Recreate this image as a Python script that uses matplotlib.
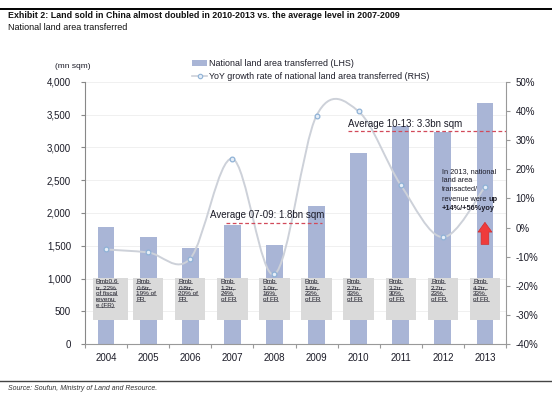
import matplotlib
matplotlib.use("Agg")
import matplotlib.pyplot as plt
from matplotlib.patches import Rectangle, FancyArrowPatch, PathPatch
from matplotlib.path import Path
from matplotlib.lines import Line2D
import numpy as np

years = ["2004", "2005", "2006", "2007", "2008", "2009", "2010", "2011", "2012", "2013"]
land_area = [1780, 1640, 1470, 1810, 1520, 2100, 2920, 3320, 3230, 3680]
yoy_growth = [-7.5, -8.5, -10.6, 23.6, -16.0, 38.4, 39.8, 14.6, -3.3, 13.9]
revenue_notes = [
    "Rmb0.6\ntr, 22%\nof fiscal\nrevenu\ne (FR)",
    "Rmb\n0.6tr,\n19% of\nFR",
    "Rmb\n0.8tr,\n20% of\nFR",
    "Rmb\n1.2tr,\n24%\nof FR",
    "Rmb\n1.0tr,\n16%\nof FR",
    "Rmb\n1.6tr,\n23%\nof FR",
    "Rmb\n2.7tr,\n33%\nof FR",
    "Rmb\n3.2tr,\n30%\nof FR",
    "Rmb\n2.7tr,\n23%\nof FR",
    "Rmb\n4.2tr,\n33%\nof FR",
]
avg_0709 = 1850
avg_1013 = 3250
left_ticks = [0, 500, 1000, 1500, 2000, 2500, 3000, 3500, 4000]
right_ticks = [-40, -30, -20, -10, 0, 10, 20, 30, 40, 50]

plt.rcParams['font.family'] = ['Liberation Sans', 'DejaVu Sans']

W, H = 552, 397
fig = plt.figure(figsize=(W / 100, H / 100), dpi=100)
ax = fig.add_axes([85 / W, 1 - 344.3 / H, (506 - 85) / W, (344.3 - 81.7) / H])
ax2 = ax.twinx()

bar_color = '#a9b5d6'
text_color = '#1c1c28'
x = np.arange(len(years))

ax.set_xlim(-0.5, 9.5)
ax.set_ylim(0, 4000)
ax2.set_ylim(-40, 50)

ax.bar(x, land_area, width=0.4, color=bar_color, zorder=2)
for v in left_ticks[1:]:
    ax.axhline(v, color='#eeeeee', lw=0.6, zorder=0)

# revenue boxes
note_texts = []
for i, note in enumerate(revenue_notes):
    if i == 0:
        x0, w = i - 0.32, 0.85
    else:
        x0, w = i - 0.36, 0.72
    ax.add_patch(Rectangle((x0, 370), w, 640, facecolor='#dadada', edgecolor='none', zorder=3))
    for j, ln in enumerate(note.split("\n")):
        t = ax.annotate(ln, xy=(x0 + 0.08, 990), xycoords='data', xytext=(0, -j * 4.3),
                        textcoords='offset points', fontsize=4.6, color=text_color,
                        ha='left', va='top', zorder=4)
        note_texts.append(t)

# axes styling
ax.spines['top'].set_visible(False)
ax2.spines['top'].set_visible(False)
ax.spines['right'].set_visible(False)
ax.spines['left'].set_color('#888888')
ax.spines['bottom'].set_color('#999999')
ax2.spines['right'].set_color('#999999')
ax2.spines['left'].set_visible(False)
ax2.spines['bottom'].set_visible(False)

ax.set_yticks(left_ticks)
ax.set_yticklabels([f"{v:,}" for v in left_ticks], fontsize=7, color=text_color)
ax.tick_params(axis='y', length=3, color='#888888', pad=7)
ax.set_xticks(np.arange(-0.5, 10, 1.0))
ax.set_xticklabels([])
ax.set_xticks(x, minor=True)
ax.set_xticklabels(years, minor=True, fontsize=7, color=text_color)
ax.tick_params(axis='x', which='major', length=3, color='#999999')
ax.tick_params(axis='x', which='minor', length=0, pad=6)

ax2.set_yticks(right_ticks)
ax2.set_yticklabels([f"{v}%" for v in right_ticks], fontsize=7, color=text_color)
ax2.tick_params(axis='y', length=3, color='#999999', pad=4)

# smoothed YoY line (Bezier through the data points, Excel-style smoothing)
pts = np.column_stack([x, yoy_growth]).astype(float)
verts = [tuple(pts[0])]
codes = [Path.MOVETO]
n = len(pts)
for i in range(n - 1):
    p0 = pts[i - 1] if i > 0 else pts[i]
    p1 = pts[i]
    p2 = pts[i + 1]
    p3 = pts[i + 2] if i + 2 < n else pts[i + 1]
    c1 = p1 + (p2 - p0) / 6.0
    c2 = p2 - (p3 - p1) / 6.0
    verts += [tuple(c1), tuple(c2), tuple(p2)]
    codes += [Path.CURVE4] * 3
ax2.add_patch(PathPatch(Path(verts, codes), facecolor='none', edgecolor='#cdd1d9', lw=1.4, zorder=2))
ax2.plot(x, yoy_growth, linestyle='none', marker='o', ms=3.4, mfc='#e6eef8', mec='#8fb2d6', mew=0.9, zorder=3)

# averages
ax2.plot([2.85, 5.13], [avg_0709, avg_0709], transform=ax.transData, color='#d24a5a', lw=0.9,
         ls=(0, (3, 2)), zorder=4)
ax2.text(2.46, avg_0709 + 50, "Average 07-09: 1.8bn sqm", transform=ax.transData, fontsize=7,
         color=text_color, ha='left', va='bottom', zorder=5)
ax2.plot([5.75, 9.5], [avg_1013, avg_1013], transform=ax.transData, color='#d24a5a', lw=0.9,
         ls=(0, (3, 2)), zorder=4)
ax2.text(5.75, avg_1013 + 25, "Average 10-13: 3.3bn sqm", transform=ax.transData, fontsize=7,
         color=text_color, ha='left', va='bottom', zorder=5)

# 2013 note
note_x = 7.98
t1 = ax2.text(note_x, 2680, "In 2013, national\nland area\ntransacted/", transform=ax.transData,
              fontsize=5.3, color=text_color, ha='left', va='top', linespacing=1.35, zorder=5)
t2 = ax2.annotate("revenue were ", xy=(0, 0), xycoords=t1, xytext=(0, -2.0), textcoords='offset points',
                  fontsize=5.3, color=text_color, ha='left', va='top', zorder=5)
ax2.annotate("up", xy=(1, 0), xycoords=t2, fontsize=5.3, color=text_color, ha='left', va='bottom',
             fontweight='bold', zorder=5)
ax2.annotate("+14%/+56%yoy", xy=(0, 0), xycoords=t2, xytext=(0, -2.0), textcoords='offset points',
             fontsize=5.3, color=text_color, ha='left', va='top', fontweight='bold', zorder=5)

arrow = FancyArrowPatch((9, 1480), (9, 1900), transform=ax.transData,
                        arrowstyle='simple,head_width=1.0,head_length=0.7,tail_width=0.55',
                        mutation_scale=10, facecolor='#ef3b3b', edgecolor='#d42a2a', lw=0.5, zorder=6)
ax2.add_patch(arrow)

# legend
handles = [Rectangle((0, 0), 1, 1, facecolor=bar_color, edgecolor='none'),
           Line2D([], [], color='#cdd1d9', lw=1.2, marker='o', ms=3.2, mfc='#e6eef8', mec='#8fb2d6', mew=0.8)]
fig.legend(handles, ["National land area transferred (LHS)",
                     "YoY growth rate of national land area transferred (RHS)"],
           loc='upper left', bbox_to_anchor=(188 / W, 1 - 55 / H), frameon=False, fontsize=6.4,
           handlelength=1.6, handleheight=0.6, labelspacing=0.4, handletextpad=0.3, borderpad=0,
           labelcolor=text_color)

fig.text(55 / W, 1 - 66 / H, "(mn sqm)", fontsize=6, color=text_color, ha='left', va='center')

# header / footer
fig.add_artist(Line2D([0, 1], [1 - 9 / H, 1 - 9 / H], color='black', lw=1.4))
fig.text(8 / W, 1 - 16 / H, "Exhibit 2: Land sold in China almost doubled in 2010-2013 vs. the average level in 2007-2009",
         fontsize=6.4, fontweight='bold', color='#111111', ha='left', va='center')
fig.text(8 / W, 1 - 27.5 / H, "National land area transferred", fontsize=6.5, color='#111111',
         ha='left', va='center')
fig.add_artist(Line2D([0, 1], [1 - 381 / H, 1 - 381 / H], color='#444444', lw=1.0))
fig.text(8 / W, 1 - 389 / H, "Source: Soufun, Ministry of Land and Resource.", fontsize=5,
         style='italic', color='#333333', ha='left', va='center')

# underline the revenue notes
renderer = fig.canvas.get_renderer()
inv = fig.transFigure.inverted()
for t in note_texts:
    bb = t.get_window_extent(renderer)
    (fx0, fy0), (fx1, _) = inv.transform([(bb.x0, bb.y0 + 1.2), (bb.x1, bb.y0 + 1.2)])
    fig.add_artist(Line2D([fx0, fx1], [fy0, fy0], color=text_color, lw=0.4, zorder=5))

fig.savefig("out.png", dpi=100)
